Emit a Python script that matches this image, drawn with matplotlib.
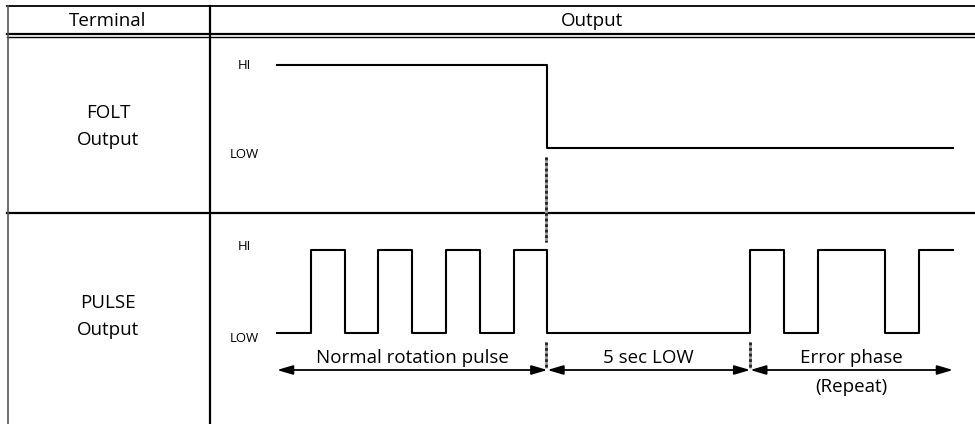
import numpy as np
import matplotlib.pyplot as plt

plt.rcParams['font.family'] = ['Open Sans', 'DejaVu Sans']

# signal data (time in pulse units)
folt_t = [0, 8, 8, 20]
folt_v = [1, 1, 0, 0]
pulse_edges = [1, 2, 3, 4, 5, 6, 7, 8, 14, 15, 16, 18, 19]
pulse_end = 20
phase_names = ["Normal rotation pulse", "5 sec LOW", "Error phase"]
phase_bounds = [0, 8, 14, 20]
headers = ["Terminal", "Output"]
rows = [("FOLT", "Output"), ("PULSE", "Output")]

# layout (pixel coords)
X0, UNIT = 277, 33.8
def tx(t):
    return X0 + np.asarray(t, dtype=float) * UNIT

FS = 13.5
FS_SMALL = 9.5

fig = plt.figure(figsize=(9.75, 4.24), dpi=100)
ax = fig.add_axes([0, 0, 1, 1])
ax.set_xlim(0, 975)
ax.set_ylim(424, 0)
ax.axis('off')

# table grid
ax.plot([7, 975], [6, 6], color='k', lw=1.3)
ax.plot([7, 975], [33.5, 33.5], color='k', lw=1.6)
ax.plot([7, 975], [36.8, 36.8], color='k', lw=1.0)
ax.plot([7, 975], [213, 213], color='k', lw=1.6)
ax.plot([7.5, 7.5], [6, 424], color='#555555', lw=1.2)
ax.plot([210, 210], [6, 424], color='k', lw=1.6)

ax.text(108, 26.5, headers[0], ha='center', va='baseline', fontsize=FS)
ax.text(592, 26.5, headers[1], ha='center', va='baseline', fontsize=FS)
ax.text(108, 118, rows[0][0], ha='center', va='baseline', fontsize=FS)
ax.text(108, 145, rows[0][1], ha='center', va='baseline', fontsize=FS)
ax.text(108, 308, rows[1][0], ha='center', va='baseline', fontsize=FS)
ax.text(108, 335, rows[1][1], ha='center', va='baseline', fontsize=FS)

# FOLT waveform
f_hi, f_lo = 64.5, 148
ax.plot(tx(folt_t), [f_hi if v else f_lo for v in folt_v], color='k', lw=1.5)
ax.text(244, 69, "HI", ha='center', va='baseline', fontsize=FS_SMALL)
ax.text(244, 158, "LOW", ha='center', va='baseline', fontsize=FS_SMALL)

# PULSE waveform
p_hi, p_lo = 250, 333
pt = [0]
pv = [0]
level = 0
for e in pulse_edges:
    pt += [e, e]
    pv += [level, 1 - level]
    level = 1 - level
pt.append(pulse_end)
pv.append(level)
ax.plot(tx(pt), [p_hi if v else p_lo for v in pv], color='k', lw=1.5)
ax.text(244, 250, "HI", ha='center', va='baseline', fontsize=FS_SMALL)
ax.text(244, 342.5, "LOW", ha='center', va='baseline', fontsize=FS_SMALL)

# hatched markers
def hatch(x, y0, y1):
    ax.plot([x, x], [y0, y1], color='#999999', lw=2.0, solid_capstyle='butt')
    ax.plot([x, x], [y0, y1], color='#222222', lw=2.0, linestyle=(0, (1, 1)))

xs = tx(phase_bounds)
hatch(xs[1] - 1, 157, 242)
hatch(xs[1] - 1, 342, 368)
hatch(xs[2], 342, 368)

# phase arrows
ya = 370
for i, name in enumerate(phase_names):
    ax.annotate('', xy=(xs[i + 1], ya), xytext=(xs[i], ya),
                arrowprops=dict(arrowstyle='<|-|>,head_length=0.95,head_width=0.28',
                                color='k', lw=1.3, mutation_scale=10,
                                shrinkA=0, shrinkB=0))
    ax.text((xs[i] + xs[i + 1]) / 2, 363, name, ha='center', va='baseline', fontsize=FS)
ax.text((xs[2] + xs[3]) / 2, 392, "(Repeat)", ha='center', va='baseline', fontsize=FS)

plt.savefig("out.png", dpi=100)
